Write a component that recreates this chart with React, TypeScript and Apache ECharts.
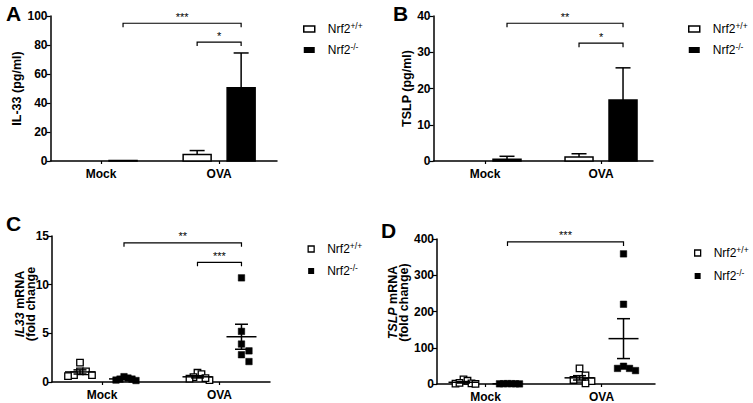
import React, { useEffect, useRef } from 'react';
import * as echarts from 'echarts';

// ---------- data ----------
const categories = ['Mock', 'OVA'];
const groupNames = ['Nrf2+/+', 'Nrf2-/-'];

// Panel A: IL-33 (pg/ml), mean and SEM per category
const il33WtMean = [0, 4.5];
const il33WtSem = [0, 2.7];
const il33KoMean = [0.4, 50.5];
const il33KoSem = [0, 24.0];

// Panel B: TSLP (pg/ml)
const tslpWtMean = [0, 1.1];
const tslpWtSem = [0, 0.9];
const tslpKoMean = [0.5, 16.8];
const tslpKoSem = [0.8, 8.9];

// Panel C: IL33 mRNA (fold change), individual animals
const il33MrnaMockWt = [2.0, 1.1, 1.1, 0.7, 0.6, 0.7];
const il33MrnaMockKo = [0.55, 0.4, 0.3, 0.2, 0.15, 0.3];
const il33MrnaOvaWt = [0.95, 0.8, 0.5, 0.35, 0.2, 0.4];
const il33MrnaOvaKo = [10.7, 5.2, 3.9, 3.2, 2.8, 2.1];

// Panel D: TSLP mRNA (fold change)
const tslpMrnaMockWt = [13, 9, 2, 1, 0.5, 3];
const tslpMrnaMockKo = [1, 0.8, 0.5, 0.3, 0.6, 0.9];
const tslpMrnaOvaWt = [43, 24, 14, 11, 8, 2];
const tslpMrnaOvaKo = [359, 220, 49, 43, 43, 37];

// y axis ranges
const yMaxA = 100, yStepA = 20;
const yMaxB = 40, yStepB = 10;
const yMaxC = 15, yStepC = 5;
const yMaxD = 400, yStepD = 100;

// significance brackets: [category, group] -> [category, group] at y
const bracketsA = [
  { from: [0, 1], to: [1, 1], y: 95, label: '***' },
  { from: [1, 0], to: [1, 1], y: 82, label: '*' },
];
const bracketsB = [
  { from: [0, 1], to: [1, 1], y: 38, label: '**' },
  { from: [1, 0], to: [1, 1], y: 32.5, label: '*' },
];
const bracketsC = [
  { from: [0, 1], to: [1, 1], y: 14.3, label: '**' },
  { from: [1, 0], to: [1, 1], y: 12.3, label: '***' },
];
const bracketsD = [{ from: [0, 1], to: [1, 1], y: 392, label: '***' }];

// ---------- style / layout ----------
const FONT = 'Liberation Sans, Arial, Helvetica, sans-serif';
const OFF = 22; // px offset of each group from the category tick
const BAR_W = 28;
const SQ = 6.5;

const layout = [
  { left: 50.5, top: 16, width: 226.5, height: 145, xMin: -0.428, xMax: 1.49 },
  { left: 433.5, top: 16, width: 219.5, height: 145, xMin: -0.444, xMax: 1.448 },
  { left: 52, top: 236, width: 218, height: 146, xMin: -0.4255, xMax: 1.43 },
  { left: 437, top: 239, width: 218, height: 145, xMin: -0.418, xMax: 1.461 },
];

const mean = (a: number[]) => a.reduce((s, v) => s + v, 0) / a.length;
const sem = (a: number[]) => {
  const m = mean(a);
  const v = a.reduce((s, x) => s + (x - m) * (x - m), 0) / (a.length - 1);
  return Math.sqrt(v) / Math.sqrt(a.length);
};

function beeswarm(ys: number[], d: number, limit: number): number[] {
  const order = ys.map((_, i) => i).sort((a, b) => ys[a] - ys[b]);
  const xs: number[] = new Array(ys.length).fill(0);
  const placed: number[] = [];
  for (const i of order) {
    const cands = [0];
    for (let k = 1; k < 10; k++) cands.push(k * d, -k * d);
    for (const x of cands) {
      const hit = placed.some((j) => Math.abs(xs[j] - x) < d - 0.01 && Math.abs(ys[j] - ys[i]) < d);
      if (!hit) {
        xs[i] = x;
        break;
      }
    }
    placed.push(i);
  }
  const mx = Math.max(...xs.map((x) => Math.abs(x)));
  if (mx > limit) return xs.map((x) => (x * limit) / mx);
  return xs;
}

const groupOffset = (g: number) => (g === 0 ? -OFF : OFF);

function barSeries(p: number, g: number, means: number[], sems: number[]) {
  return {
    type: 'custom',
    name: groupNames[g],
    xAxisIndex: p,
    yAxisIndex: p,
    clip: false,
    data: means.map((m, i) => [i, m, sems[i]]),
    renderItem: (params: any, api: any) => {
      const cat = api.value(0);
      const m = api.value(1);
      const s = api.value(2);
      const base = api.coord([cat, 0]);
      const top = api.coord([cat, m]);
      const et = api.coord([cat, m + s]);
      const cx = base[0] + groupOffset(g);
      const children: any[] = [];
      if (m > 0) {
        children.push({
          type: 'rect',
          shape: { x: cx - BAR_W / 2, y: top[1], width: BAR_W, height: base[1] - top[1] },
          style: { fill: g === 0 ? '#fff' : '#000', stroke: '#000', lineWidth: 1.5 },
        });
      }
      if (s > 0) {
        children.push({
          type: 'line',
          shape: { x1: cx, y1: top[1], x2: cx, y2: et[1] },
          style: { stroke: '#000', lineWidth: 1.5 },
        });
        children.push({
          type: 'line',
          shape: { x1: cx - 7.5, y1: et[1], x2: cx + 7.5, y2: et[1] },
          style: { stroke: '#000', lineWidth: 1.5 },
        });
      }
      return { type: 'group', children };
    },
  };
}

function pointSeries(p: number, g: number, perCat: number[][]) {
  const data: number[][] = [];
  perCat.forEach((vals, c) => vals.forEach((v, j) => data.push([c, v, j])));
  return {
    type: 'custom',
    name: groupNames[g],
    xAxisIndex: p,
    yAxisIndex: p,
    clip: false,
    data,
    renderItem: (params: any, api: any) => {
      const cat = api.value(0);
      const idx = api.value(2);
      const vals = perCat[cat];
      const ys = vals.map((v) => api.coord([cat, v])[1]);
      const offs = beeswarm(ys, SQ + 1, 12);
      const c = api.coord([cat, vals[idx]]);
      const cx = c[0] + groupOffset(g) + offs[idx];
      return {
        type: 'rect',
        shape: { x: cx - SQ / 2, y: c[1] - SQ / 2, width: SQ, height: SQ },
        style:
          g === 0
            ? { fill: '#fff', stroke: '#000', lineWidth: 1.3 }
            : { fill: '#000', stroke: '#000', lineWidth: 0.5 },
      };
    },
  };
}

function meanSeries(p: number, g: number, perCat: number[][]) {
  return {
    type: 'custom',
    name: groupNames[g],
    xAxisIndex: p,
    yAxisIndex: p,
    clip: false,
    z: 5,
    data: perCat.map((vals, c) => [c, mean(vals), sem(vals)]),
    renderItem: (params: any, api: any) => {
      const cat = api.value(0);
      const m = api.value(1);
      const s = api.value(2);
      const pm = api.coord([cat, m]);
      const pu = api.coord([cat, m + s]);
      const pl = api.coord([cat, m - s]);
      const cx = pm[0] + groupOffset(g);
      const st = { stroke: '#000', lineWidth: 1.5 };
      return {
        type: 'group',
        children: [
          { type: 'line', shape: { x1: cx - 15, y1: pm[1], x2: cx + 15, y2: pm[1] }, style: st },
          { type: 'line', shape: { x1: cx, y1: pu[1], x2: cx, y2: pl[1] }, style: st },
          { type: 'line', shape: { x1: cx - 6.5, y1: pu[1], x2: cx + 6.5, y2: pu[1] }, style: st },
          { type: 'line', shape: { x1: cx - 6.5, y1: pl[1], x2: cx + 6.5, y2: pl[1] }, style: st },
        ],
      };
    },
  };
}

function bracketSeries(p: number, list: { from: number[]; to: number[]; y: number; label: string }[]) {
  return {
    type: 'custom',
    xAxisIndex: p,
    yAxisIndex: p,
    clip: false,
    silent: true,
    data: list.map((b, i) => [b.from[0], b.y, i]),
    renderItem: (params: any, api: any) => {
      const b = list[api.value(2)];
      const a = api.coord([b.from[0], b.y]);
      const e = api.coord([b.to[0], b.y]);
      const x1 = a[0] + groupOffset(b.from[1]);
      const x2 = e[0] + groupOffset(b.to[1]);
      const y = a[1];
      return {
        type: 'group',
        children: [
          {
            type: 'polyline',
            shape: { points: [[x1, y + 4], [x1, y], [x2, y], [x2, y + 4]] },
            style: { stroke: '#000', lineWidth: 1.2, fill: 'none' },
          },
          {
            type: 'text',
            x: (x1 + x2) / 2,
            y: y - 1,
            style: {
              text: b.label,
              fill: '#000',
              font: `11px ${FONT}`,
              align: 'center',
              verticalAlign: 'bottom',
            },
          },
        ],
      };
    },
  };
}

function makeXAxis(p: number) {
  const l = layout[p];
  return {
    type: 'value',
    gridIndex: p,
    min: l.xMin,
    max: l.xMax,
    splitLine: { show: false },
    axisLine: { show: true, onZero: false, lineStyle: { color: '#000', width: 1.5 } },
    axisTick: { show: true, customValues: [0, 1], length: 3, lineStyle: { color: '#000', width: 1.2 } },
    axisLabel: {
      customValues: [0, 1],
      formatter: (v: number) => categories[Math.round(v)],
      color: '#000',
      fontFamily: FONT,
      fontWeight: 'bold',
      fontSize: 12,
      margin: 7,
    },
  };
}

function makeYAxis(
  p: number,
  max: number,
  step: number,
  name: string,
  nameGap: number,
  rich?: any,
  pad?: number[],
  noMove?: boolean
) {
  return {
    type: 'value',
    gridIndex: p,
    min: 0,
    max,
    interval: step,
    name,
    nameLocation: 'middle',
    nameGap,
    nameMoveOverlap: noMove ? false : true,
    nameTextStyle: {
      color: '#000',
      fontFamily: FONT,
      fontWeight: 'bold',
      fontSize: 12.5,
      lineHeight: 12,
      padding: pad || 0,
      rich,
    },
    splitLine: { show: false },
    axisLine: { show: true, onZero: false, lineStyle: { color: '#000', width: 1.5 } },
    axisTick: { show: true, length: 4, lineStyle: { color: '#000', width: 1.2 } },
    axisLabel: { color: '#000', fontFamily: FONT, fontWeight: 'bold', fontSize: 12, margin: 3 },
  };
}

const legendFormatter = (name: string) =>
  name === groupNames[0] ? '{b|Nrf2}{s|+/+}' : '{b|Nrf2}{s|-/-}';

const legendRich = {
  b: { fontSize: 12, fontFamily: FONT, color: '#000', lineHeight: 16, padding: [0, 0, 0, 8] },
  s: { fontSize: 8.5, fontFamily: FONT, color: '#000', verticalAlign: 'top', lineHeight: 11 },
};

function makeLegend(left: number, top: number, bar: boolean, gap: number) {
  const w = bar ? 11 : 6;
  const h = 6;
  return {
    left,
    top,
    orient: 'vertical',
    itemWidth: w,
    itemHeight: h,
    itemGap: gap,
    padding: 0,
    selectedMode: false,
    formatter: legendFormatter,
    textStyle: { rich: legendRich, color: '#000' },
    data: [
      {
        name: groupNames[0],
        icon: 'rect',
        itemStyle: { color: '#fff', borderColor: '#000', borderWidth: bar ? 1.5 : 1.3 },
      },
      { name: groupNames[1], icon: 'rect', itemStyle: { color: '#000', borderWidth: 0 } },
    ],
  };
}

function makeTitle(text: string, left: number, top: number) {
  return {
    text,
    left,
    top,
    padding: 0,
    textStyle: { fontFamily: FONT, fontWeight: 'bold', fontSize: 21, color: '#000' },
  };
}

const mrnaRich = {
  i: { fontStyle: 'italic', fontWeight: 'bold', fontSize: 12.5, fontFamily: FONT, color: '#000', lineHeight: 11 },
  n: { fontWeight: 'bold', fontSize: 12.5, fontFamily: FONT, color: '#000', lineHeight: 11 },
};

export default function App() {
  const ref = useRef<HTMLDivElement>(null);
  useEffect(() => {
    if (!ref.current) return;
    const chart = echarts.init(ref.current, undefined, { renderer: 'svg' });
    const option: any = {
      animation: false,
      backgroundColor: '#fff',
      title: [
        makeTitle('A', 6, 3),
        makeTitle('B', 393, 3),
        makeTitle('C', 6, 213),
        makeTitle('D', 381, 220),
      ],
      legend: [
        makeLegend(303, 21, true, 7),
        makeLegend(688, 21, true, 7),
        makeLegend(307.5, 241, false, 8),
        makeLegend(694, 245, false, 9),
      ],
      grid: layout.map((l) => ({ left: l.left, top: l.top, width: l.width, height: l.height, containLabel: false })),
      xAxis: [makeXAxis(0), makeXAxis(1), makeXAxis(2), makeXAxis(3)],
      yAxis: [
        makeYAxis(0, yMaxA, yStepA, 'IL-33 (pg/ml)', 24),
        makeYAxis(1, yMaxB, yStepB, 'TSLP (pg/ml)', 18),
        makeYAxis(2, yMaxC, yStepC, '{i|IL33}{n| mRNA}\n{n|(fold change}', 16, mrnaRich, [0, 0, 0, 10], true),
        makeYAxis(3, yMaxD, yStepD, '{i|TSLP}{n| mRNA}\n{n|(fold change)}', 28, mrnaRich, [0, 0, 0, 18]),
      ],
      series: [
        barSeries(0, 0, il33WtMean, il33WtSem),
        barSeries(0, 1, il33KoMean, il33KoSem),
        bracketSeries(0, bracketsA),
        barSeries(1, 0, tslpWtMean, tslpWtSem),
        barSeries(1, 1, tslpKoMean, tslpKoSem),
        bracketSeries(1, bracketsB),
        pointSeries(2, 0, [il33MrnaMockWt, il33MrnaOvaWt]),
        pointSeries(2, 1, [il33MrnaMockKo, il33MrnaOvaKo]),
        meanSeries(2, 0, [il33MrnaMockWt, il33MrnaOvaWt]),
        meanSeries(2, 1, [il33MrnaMockKo, il33MrnaOvaKo]),
        bracketSeries(2, bracketsC),
        pointSeries(3, 0, [tslpMrnaMockWt, tslpMrnaOvaWt]),
        pointSeries(3, 1, [tslpMrnaMockKo, tslpMrnaOvaKo]),
        meanSeries(3, 0, [tslpMrnaMockWt, tslpMrnaOvaWt]),
        meanSeries(3, 1, [tslpMrnaMockKo, tslpMrnaOvaKo]),
        bracketSeries(3, bracketsD),
      ],
    };
    chart.setOption(option);
    return () => chart.dispose();
  }, []);
  return (
    <div
      ref={ref}
      style={{ position: 'absolute', left: 0, top: 0, width: 753, height: 403, background: '#fff' }}
    />
  );
}
